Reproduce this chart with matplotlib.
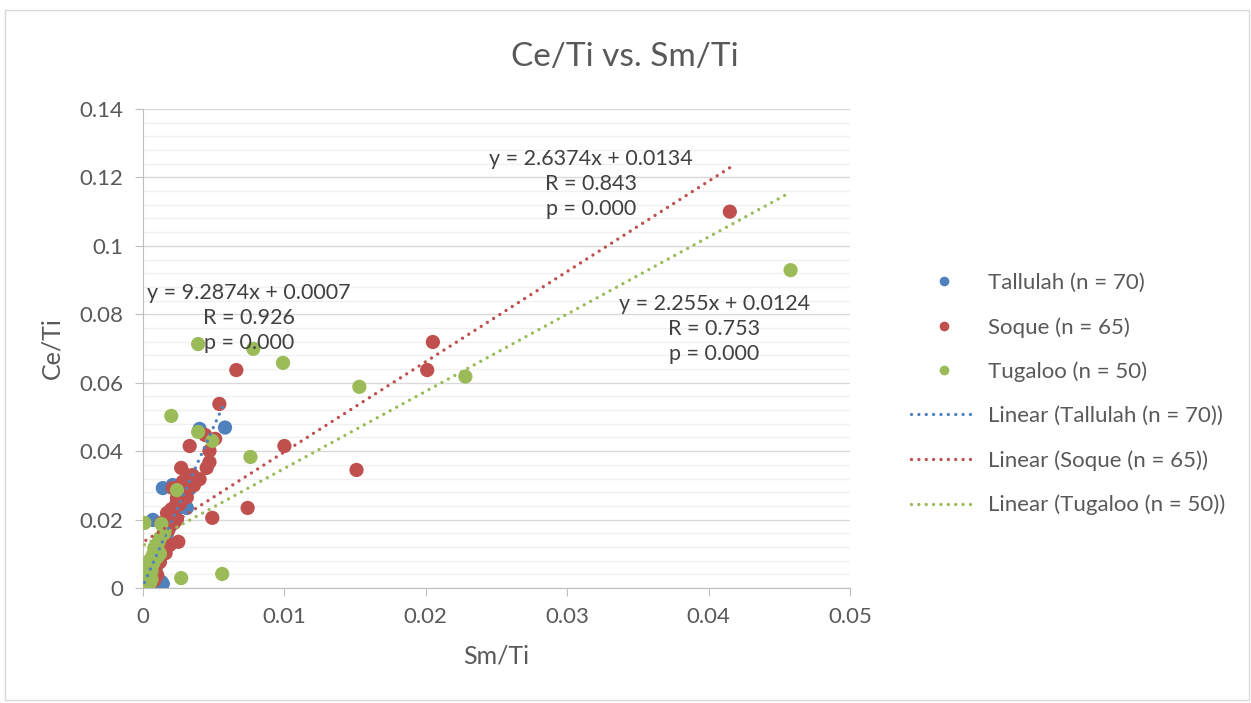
#!/usr/bin/env python3
"""Ce/Ti vs. Sm/Ti scatter with linear trendlines (Excel look)."""

import matplotlib

matplotlib.use("Agg")
import matplotlib.pyplot as plt
import numpy as np
from matplotlib.lines import Line2D
from matplotlib.patches import Rectangle
from matplotlib.ticker import MultipleLocator

plt.rcParams["font.family"] = ["Lato", "DejaVu Sans"]

# --- data ---
tallulah_x = [0.0058, 0.0040, 0.0036, 0.0029, 0.0021, 0.0014, 0.0031, 0.0007, 0.0013, 0.0003,
              0.0002, 0.0004, 0.0006, 0.0008, 0.0010, 0.0012, 0.0015, 0.0017, 0.0019, 0.0022,
              0.0025, 0.0027, 0.0033, 0.0034, 0.0026, 0.0030, 0.0010, 0.0014, 0.0005, 0.0009,
              0.0011, 0.0016, 0.0018, 0.0023, 0.0032, 0.0001, 0.0003, 0.0007, 0.0020, 0.0024]
tallulah_y = [0.0469, 0.0465, 0.0316, 0.0307, 0.0301, 0.0292, 0.0234, 0.0199, 0.0018, 0.0009,
              0.0010, 0.0020, 0.0040, 0.0070, 0.0090, 0.0110, 0.0140, 0.0160, 0.0180, 0.0210,
              0.0240, 0.0260, 0.0290, 0.0320, 0.0280, 0.0310, 0.0010, 0.0012, 0.0030, 0.0060,
              0.0100, 0.0150, 0.0130, 0.0220, 0.0300, 0.0005, 0.0015, 0.0050, 0.0190, 0.0250]

soque_x = [0.0415, 0.0205, 0.0201, 0.0151, 0.0100, 0.0074, 0.0066, 0.0054, 0.0049, 0.0044,
           0.0051, 0.0033, 0.0047, 0.0047, 0.0045, 0.0027, 0.0031, 0.0040, 0.0021, 0.0028,
           0.0026, 0.0024, 0.0017, 0.0021, 0.0025, 0.0019, 0.0016, 0.0012, 0.0010, 0.0008,
           0.0005, 0.0029, 0.0031, 0.0030, 0.0023, 0.0022, 0.0018, 0.0014, 0.0013, 0.0011,
           0.0009, 0.0007, 0.0003, 0.0015, 0.0020, 0.0036, 0.0024, 0.0013, 0.0002, 0.0028,
           0.0035, 0.0006, 0.0004, 0.0016, 0.0019, 0.0012, 0.0026]
soque_y = [0.1100, 0.0719, 0.0637, 0.0345, 0.0415, 0.0234, 0.0637, 0.0538, 0.0205, 0.0447,
           0.0436, 0.0415, 0.0401, 0.0368, 0.0351, 0.0351, 0.0330, 0.0318, 0.0292, 0.0286,
           0.0266, 0.0263, 0.0219, 0.0213, 0.0135, 0.0126, 0.0102, 0.0076, 0.0038, 0.0023,
           0.0009, 0.0300, 0.0265, 0.0290, 0.0240, 0.0190, 0.0170, 0.0150, 0.0120, 0.0095,
           0.0060, 0.0045, 0.0010, 0.0165, 0.0230, 0.0300, 0.0200, 0.0190, 0.0003, 0.0310,
           0.0330, 0.0030, 0.0015, 0.0185, 0.0205, 0.0140, 0.0245]

tugaloo_x = [0.0458, 0.0228, 0.0153, 0.0099, 0.0078, 0.0039, 0.0076, 0.0020, 0.0027, 0.0056,
             0.0049, 0.0039, 0.0024, 0.0001, 0.0013, 0.0007, 0.0005, 0.0006, 0.0003, 0.0004,
             0.0001, 0.0008, 0.0011, 0.0012, 0.0002, 0.0009, 0.0010, 0.0004, 0.0006, 0.0002,
             0.0015, 0.0003, 0.0007, 0.0001, 0.0005, 0.0008, 0.0010, 0.0003, 0.0006, 0.0012]
tugaloo_y = [0.0929, 0.0618, 0.0588, 0.0658, 0.0699, 0.0713, 0.0383, 0.0503, 0.0029, 0.0041,
             0.0430, 0.0456, 0.0286, 0.0190, 0.0187, 0.0097, 0.0082, 0.0062, 0.0053, 0.0033,
             0.0018, 0.0117, 0.0135, 0.0146, 0.0008, 0.0105, 0.0090, 0.0045, 0.0025, 0.0035,
             0.0160, 0.0065, 0.0070, 0.0040, 0.0015, 0.0080, 0.0120, 0.0020, 0.0048, 0.0100]

x_ticks = [0, 0.01, 0.02, 0.03, 0.04, 0.05]
x_tick_labels = ["0", "0.01", "0.02", "0.03", "0.04", "0.05"]
y_ticks = [0, 0.02, 0.04, 0.06, 0.08, 0.1, 0.12, 0.14]
y_tick_labels = ["0", "0.02", "0.04", "0.06", "0.08", "0.1", "0.12", "0.14"]

names = ["Tallulah (n = 70)", "Soque (n = 65)", "Tugaloo (n = 50)"]
colors = ["#4F81BD", "#C0504D", "#9BBB59"]
slopes = [9.2874, 2.6374, 2.255]
intercepts = [0.0007, 0.0134, 0.0124]
r_vals = [0.926, 0.843, 0.753]
# label anchor (x, y of the middle "R =" line)
label_pos = [(0.0075, 0.0789), (0.0317, 0.1181), (0.0404, 0.0757)]

DOTS = (0, (0.01, 2.2))

fig = plt.figure(figsize=(12.51, 7.03), dpi=100)
fig.patches.append(Rectangle((5 / 1251, 3 / 703), 1244 / 1251, 690 / 703, transform=fig.transFigure,
                             fill=False, edgecolor="#d9d9d9", linewidth=1))
ax = fig.add_axes([143 / 1251, 1 - 588 / 703, 707 / 1251, 479 / 703])

series = [(tallulah_x, tallulah_y), (soque_x, soque_y), (tugaloo_x, tugaloo_y)]
handles_pts, handles_lines = [], []
for (xs, ys), name, c in zip(series, names, colors):
    ax.scatter(xs, ys, s=105, color=c, edgecolors="none", zorder=3)
    handles_pts.append(Line2D([], [], linestyle="none", marker="o", markersize=7,
                              markerfacecolor=c, markeredgecolor="none", label=name))

for (xs, ys), name, c, m, b in zip(series, names, colors, slopes, intercepts):
    xx = np.array([min(xs), max(xs)])
    ax.plot(xx, m * xx + b, color=c, linewidth=2.4, linestyle=DOTS,
            dash_capstyle="round", zorder=4)
    handles_lines.append(Line2D([], [], color=c, linewidth=2.4, linestyle=DOTS,
                                dash_capstyle="round", label=f"Linear ({name})"))

for (lx, ly), m, b, r in zip(label_pos, slopes, intercepts, r_vals):
    ax.text(lx, ly, f"y = {m}x + {b}\nR = {r:.3f}\np = 0.000", ha="center", va="center",
            multialignment="center", fontsize=15.5, color="#404040", linespacing=1.3, zorder=5)

ax.set_xlim(0, 0.05)
ax.set_ylim(0, 0.14)
ax.set_xticks(x_ticks)
ax.set_xticklabels(x_tick_labels)
ax.set_yticks(y_ticks)
ax.set_yticklabels(y_tick_labels)
ax.yaxis.set_minor_locator(MultipleLocator(0.004))
ax.grid(axis="y", which="major", color="#d9d9d9", linewidth=1)
ax.grid(axis="y", which="minor", color="#f0f0f0", linewidth=1)
ax.set_axisbelow(True)
for side in ["top", "right"]:
    ax.spines[side].set_visible(False)
for side in ["left", "bottom"]:
    ax.spines[side].set_color("#bfbfbf")
ax.tick_params(axis="both", which="major", colors="#bfbfbf", labelcolor="#595959",
               labelsize=16, length=6, pad=8)
ax.tick_params(axis="y", which="minor", length=0)

ax.set_xlabel("Sm/Ti", fontsize=18, color="#595959", labelpad=12)
ax.set_ylabel("Ce/Ti", fontsize=18, color="#595959", labelpad=12)
fig.text(625 / 1251, 1 - 57 / 703, "Ce/Ti vs. Sm/Ti", ha="center", va="center",
         fontsize=24, color="#595959")

fig.legend(handles=handles_pts + handles_lines, loc="upper left", bbox_to_anchor=(0.712, 0.64),
           frameon=False, fontsize=16, labelcolor="#595959", handlelength=3.0,
           handletextpad=0.5, labelspacing=1.08)

fig.savefig("out.png", dpi=100)
plt.close(fig)
